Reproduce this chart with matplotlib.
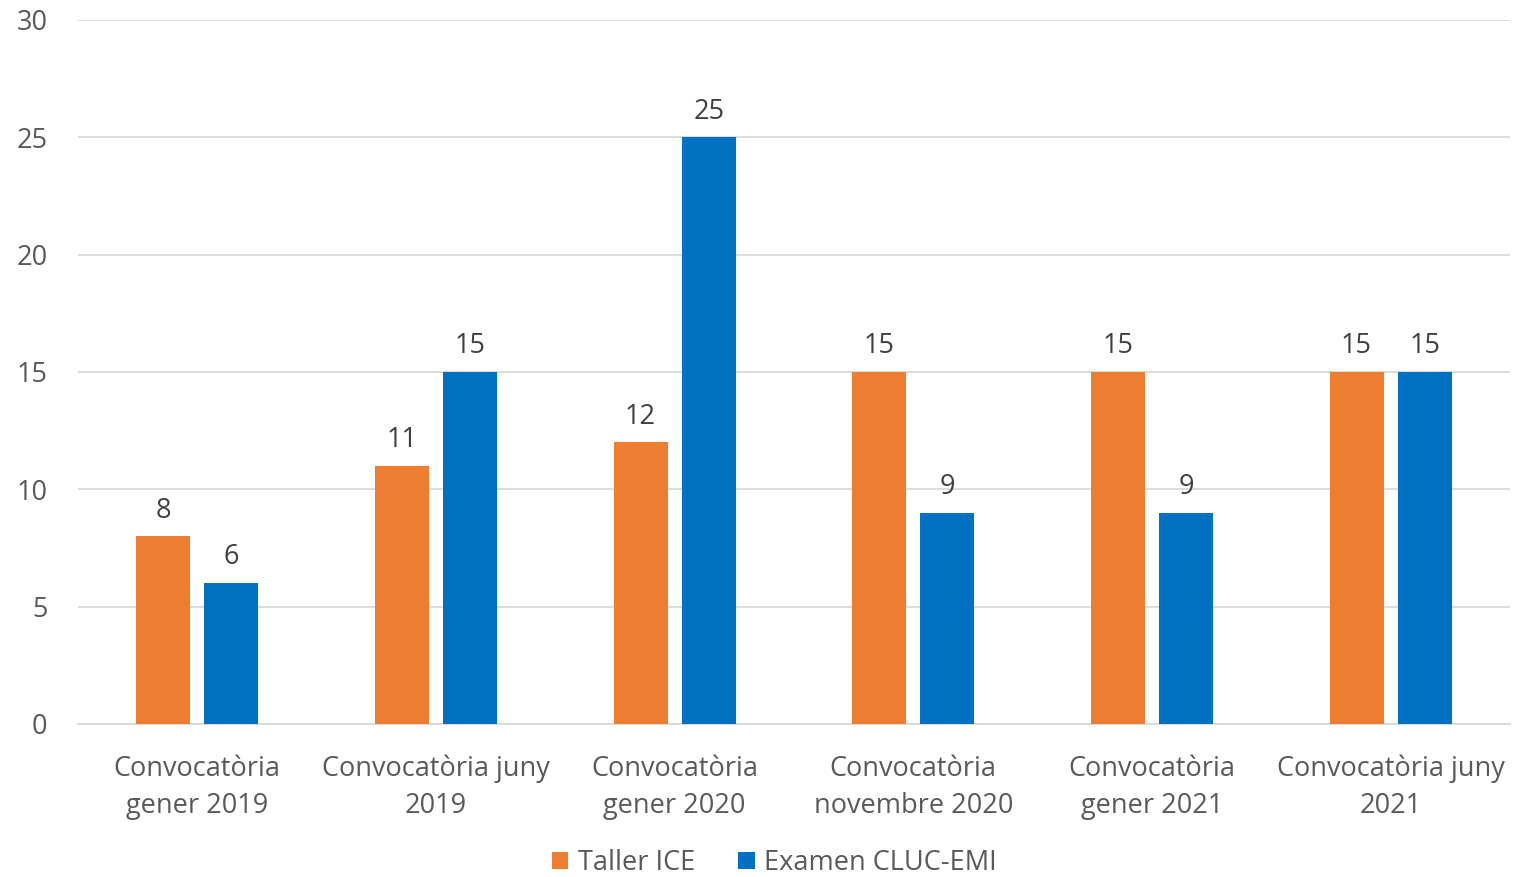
import matplotlib
matplotlib.use("Agg")
import matplotlib.pyplot as plt
import numpy as np

categories = ["Convocatòria\ngener 2019", "Convocatòria juny\n2019", "Convocatòria\ngener 2020",
              "Convocatòria\nnovembre 2020", "Convocatòria\ngener 2021", "Convocatòria juny\n2021"]
taller_ice = [8, 11, 12, 15, 15, 15]
examen_cluc = [6, 15, 25, 9, 9, 15]
series_names = ["Taller ICE", "Examen CLUC-EMI"]
yticks = [0, 5, 10, 15, 20, 25, 30]

plt.rcParams['font.family'] = ['Open Sans', 'DejaVu Sans']
txt = '#595959'
fs = 19.5
fig = plt.figure(figsize=(15.17, 8.77), dpi=100)
ax = fig.add_axes([0.0514, 0.1745, 0.944, 0.8027])

x = np.arange(len(categories))
w = 0.226
off = 0.143
b1 = ax.bar(x - off, taller_ice, w, color='#ED7D31', label=series_names[0], zorder=3)
b2 = ax.bar(x + off, examen_cluc, w, color='#0070C0', label=series_names[1], zorder=3)
for bars in (b1, b2):
    for r in bars:
        ax.text(r.get_x() + r.get_width() / 2, r.get_height() + 0.5, f"{int(r.get_height())}",
                ha='center', va='bottom', fontsize=fs, color='#404040')

ax.set_xlim(-0.5, len(categories) - 0.5)
ax.set_ylim(0, 30)
ax.set_yticks(yticks)
ax.set_xticks(x)
ax.set_xticklabels(categories, fontsize=fs, color=txt, linespacing=1.45)
ax.tick_params(axis='y', labelsize=fs, labelcolor=txt, length=0, pad=22)
ax.tick_params(axis='x', length=0, pad=22)
ax.yaxis.grid(True, color='#D9D9D9', linewidth=1.3, zorder=0)
for s in ['top', 'right', 'left']:
    ax.spines[s].set_visible(False)
ax.spines['bottom'].set_color('#D9D9D9')
ax.spines['bottom'].set_linewidth(1.3)

fig.legend(handles=[b1, b2], labels=series_names, loc='center', bbox_to_anchor=(0.5105, 0.016),
           ncol=2, frameon=False, fontsize=fs, labelcolor=txt, handlelength=0.6, handleheight=0.6,
           handletextpad=0.35, columnspacing=1.6)
fig.savefig("out.png", dpi=100)
